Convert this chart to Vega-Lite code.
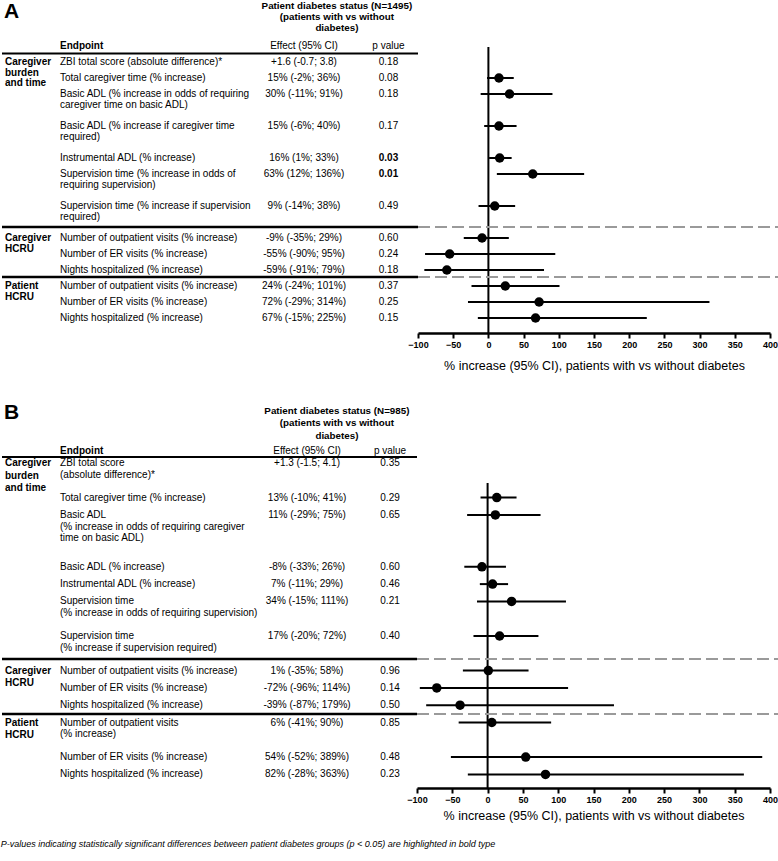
{
  "$schema": "https://vega.github.io/schema/vega-lite/v6.json",
  "padding": {"left": 0, "top": 0, "right": 0, "bottom": 0},
  "config": {
    "font": "Liberation Sans",
    "view": {"stroke": null},
    "text": {"font": "Liberation Sans", "fontSize": 10, "baseline": "middle", "color": "black", "lineBreak": "\n"},
    "axisX": {"values": [-100, -50, 0, 50, 100, 150, 200, 250, 300, 350, 400], "titleFontSize": 12.5, "titleFontWeight": "normal", "titleColor": "black", "titleFont": "Liberation Sans", "labelFontWeight": "bold", "labelFontSize": 9, "labelColor": "black", "labelFont": "Liberation Sans", "labelPadding": 2, "tickColor": "black", "tickWidth": 2, "tickSize": 5, "domainColor": "black", "domainWidth": 2.5, "grid": false, "labelFlush": false, "labelOverlap": false}
  },
  "title": {
    "text": "P-values indicating statistically significant differences between patient diabetes groups (p < 0.05) are highlighted in bold type",
    "orient": "bottom", "anchor": "start", "fontSize": 9, "fontStyle": "italic", "fontWeight": "normal",
    "color": "black", "font": "Liberation Sans", "offset": 18
  },
  "datasets": {
    "A": [
      {"group": "Caregiver\nburden\nand time", "endpoint": "ZBI total score (absolute difference)*", "effect": "+1.6 (-0.7; 3.8)", "p": "0.18", "line": 1, "est": null, "lo": null, "hi": null},
      {"group": "", "endpoint": "Total caregiver time (% increase)", "effect": "15% (-2%; 36%)", "p": "0.08", "line": 2, "est": 15, "lo": -2, "hi": 36},
      {"group": "", "endpoint": "Basic ADL (% increase in odds of requiring\ncaregiver time on basic ADL)", "effect": "30% (-11%; 91%)", "p": "0.18", "line": 3, "est": 30, "lo": -11, "hi": 91},
      {"group": "", "endpoint": "Basic ADL (% increase if caregiver time\nrequired)", "effect": "15% (-6%; 40%)", "p": "0.17", "line": 5, "est": 15, "lo": -6, "hi": 40},
      {"group": "", "endpoint": "Instrumental ADL (% increase)", "effect": "16% (1%; 33%)", "p": "0.03", "line": 7, "est": 16, "lo": 1, "hi": 33},
      {"group": "", "endpoint": "Supervision time (% increase in odds of\nrequiring supervision)", "effect": "63% (12%; 136%)", "p": "0.01", "line": 8, "est": 63, "lo": 12, "hi": 136},
      {"group": "", "endpoint": "Supervision time (% increase if supervision\nrequired)", "effect": "9% (-14%; 38%)", "p": "0.49", "line": 10, "est": 9, "lo": -14, "hi": 38},
      {"group": "Caregiver\nHCRU", "endpoint": "Number of outpatient visits (% increase)", "effect": "-9% (-35%; 29%)", "p": "0.60", "line": 12, "est": -9, "lo": -35, "hi": 29},
      {"group": "", "endpoint": "Number of ER visits (% increase)", "effect": "-55% (-90%; 95%)", "p": "0.24", "line": 13, "est": -55, "lo": -90, "hi": 95},
      {"group": "", "endpoint": "Nights hospitalized (% increase)", "effect": "-59% (-91%; 79%)", "p": "0.18", "line": 14, "est": -59, "lo": -91, "hi": 79},
      {"group": "Patient\nHCRU", "endpoint": "Number of outpatient visits (% increase)", "effect": "24% (-24%; 101%)", "p": "0.37", "line": 15, "est": 24, "lo": -24, "hi": 101},
      {"group": "", "endpoint": "Number of ER visits (% increase)", "effect": "72% (-29%; 314%)", "p": "0.25", "line": 16, "est": 72, "lo": -29, "hi": 314},
      {"group": "", "endpoint": "Nights hospitalized (% increase)", "effect": "67% (-15%; 225%)", "p": "0.15", "line": 17, "est": 67, "lo": -15, "hi": 225}
    ],
    "B": [
      {"group": "Caregiver\nburden\nand time", "endpoint": "ZBI total score\n(absolute difference)*", "effect": "+1.3 (-1.5; 4.1)", "p": "0.35", "line": 1, "est": null, "lo": null, "hi": null},
      {"group": "", "endpoint": "Total caregiver time (% increase)", "effect": "13% (-10%; 41%)", "p": "0.29", "line": 3, "est": 13, "lo": -10, "hi": 41},
      {"group": "", "endpoint": "Basic ADL\n(% increase in odds of requiring caregiver\ntime on basic ADL)", "effect": "11% (-29%; 75%)", "p": "0.65", "line": 4, "est": 11, "lo": -29, "hi": 75},
      {"group": "", "endpoint": "Basic ADL (% increase)", "effect": "-8% (-33%; 26%)", "p": "0.60", "line": 7, "est": -8, "lo": -33, "hi": 26},
      {"group": "", "endpoint": "Instrumental ADL (% increase)", "effect": "7% (-11%; 29%)", "p": "0.46", "line": 8, "est": 7, "lo": -11, "hi": 29},
      {"group": "", "endpoint": "Supervision time\n(% increase in odds of requiring supervision)", "effect": "34% (-15%; 111%)", "p": "0.21", "line": 9, "est": 34, "lo": -15, "hi": 111},
      {"group": "", "endpoint": "Supervision time\n(% increase if supervision required)", "effect": "17% (-20%; 72%)", "p": "0.40", "line": 11, "est": 17, "lo": -20, "hi": 72},
      {"group": "Caregiver\nHCRU", "endpoint": "Number of outpatient visits (% increase)", "effect": "1% (-35%; 58%)", "p": "0.96", "line": 13, "est": 1, "lo": -35, "hi": 58},
      {"group": "", "endpoint": "Number of ER visits (% increase)", "effect": "-72% (-96%; 114%)", "p": "0.14", "line": 14, "est": -72, "lo": -96, "hi": 114},
      {"group": "", "endpoint": "Nights hospitalized (% increase)", "effect": "-39% (-87%; 179%)", "p": "0.50", "line": 15, "est": -39, "lo": -87, "hi": 179},
      {"group": "Patient\nHCRU", "endpoint": "Number of outpatient visits\n(% increase)", "effect": "6% (-41%; 90%)", "p": "0.85", "line": 16, "est": 6, "lo": -41, "hi": 90},
      {"group": "", "endpoint": "Number of ER visits (% increase)", "effect": "54% (-52%; 389%)", "p": "0.48", "line": 18, "est": 54, "lo": -52, "hi": 389},
      {"group": "", "endpoint": "Nights hospitalized (% increase)", "effect": "82% (-28%; 363%)", "p": "0.23", "line": 19, "est": 82, "lo": -28, "hi": 363}
    ]
  },
  "spacing": 29,
  "vconcat": [
    {
      "bounds": "flush",
      "spacing": 0,
      "hconcat": [
        {
          "width": 416, "height": 333,
          "data": {"name": "A"},
          "layer": [
            {"transform": [{"filter": "datum.group != ''"}],
             "mark": {"type": "text", "align": "left", "fontWeight": "bold", "lineHeight": 10.5},
             "encoding": {"x": {"datum": 0.72, "type": "quantitative", "scale": {"domain": [0, 100], "nice": false, "zero": false}, "axis": null},
                          "y": {"field": "line", "type": "quantitative", "scale": {"domain": [-2.875, 17.9375], "reverse": true, "nice": false, "zero": false}, "axis": null},
                          "text": {"field": "group"}}},
            {"mark": {"type": "text", "align": "left", "lineHeight": 10.5},
             "encoding": {"x": {"datum": 13.94, "type": "quantitative", "scale": {"domain": [0, 100], "nice": false, "zero": false}, "axis": null},
                          "y": {"field": "line", "type": "quantitative", "scale": {"domain": [-2.875, 17.9375], "reverse": true, "nice": false, "zero": false}, "axis": null},
                          "text": {"field": "endpoint"}}},
            {"mark": {"type": "text", "align": "center"},
             "encoding": {"x": {"datum": 72.6, "type": "quantitative", "scale": {"domain": [0, 100], "nice": false, "zero": false}, "axis": null},
                          "y": {"field": "line", "type": "quantitative", "scale": {"domain": [-2.875, 17.9375], "reverse": true, "nice": false, "zero": false}, "axis": null},
                          "text": {"field": "effect"}}},
            {"transform": [{"filter": "toNumber(datum.p) >= 0.05"}],
             "mark": {"type": "text", "align": "center"},
             "encoding": {"x": {"datum": 92.9, "type": "quantitative", "scale": {"domain": [0, 100], "nice": false, "zero": false}, "axis": null},
                          "y": {"field": "line", "type": "quantitative", "scale": {"domain": [-2.875, 17.9375], "reverse": true, "nice": false, "zero": false}, "axis": null},
                          "text": {"field": "p"}}},
            {"transform": [{"filter": "toNumber(datum.p) < 0.05"}],
             "mark": {"type": "text", "align": "center", "fontWeight": "bold"},
             "encoding": {"x": {"datum": 92.9, "type": "quantitative", "scale": {"domain": [0, 100], "nice": false, "zero": false}, "axis": null},
                          "y": {"field": "line", "type": "quantitative", "scale": {"domain": [-2.875, 17.9375], "reverse": true, "nice": false, "zero": false}, "axis": null},
                          "text": {"field": "p"}}},
            {"data": {"values": [{}]},
             "mark": {"type": "text", "align": "left", "fontWeight": "bold", "fontSize": 21, "text": "A"},
             "encoding": {"x": {"datum": 0.5, "type": "quantitative", "axis": null}, "y": {"datum": -2.094, "type": "quantitative", "axis": null}}},
            {"data": {"values": [{}]},
             "mark": {"type": "text", "align": "center", "fontWeight": "bold", "fontSize": 9.8, "lineHeight": 11, "text": "Patient diabetes status (N=1495)\n(patients with vs without\ndiabetes)"},
             "encoding": {"x": {"datum": 80.5, "type": "quantitative", "axis": null}, "y": {"datum": -2.5, "type": "quantitative", "axis": null}}},
            {"data": {"values": [{}]},
             "mark": {"type": "text", "align": "left", "fontWeight": "bold", "text": "Endpoint"},
             "encoding": {"x": {"datum": 13.94, "type": "quantitative", "axis": null}, "y": {"datum": 0, "type": "quantitative", "axis": null}}},
            {"data": {"values": [{}]},
             "mark": {"type": "text", "align": "center", "text": "Effect (95% CI)"},
             "encoding": {"x": {"datum": 72.6, "type": "quantitative", "axis": null}, "y": {"datum": 0, "type": "quantitative", "axis": null}}},
            {"data": {"values": [{}]},
             "mark": {"type": "text", "align": "center", "text": "p value"},
             "encoding": {"x": {"datum": 92.9, "type": "quantitative", "axis": null}, "y": {"datum": 0, "type": "quantitative", "axis": null}}},
            {"data": {"values": [{}]},
             "mark": {"type": "rule", "color": "black", "strokeWidth": 2},
             "encoding": {"y": {"datum": 0.469, "type": "quantitative", "axis": null}}},
            {"data": {"values": [{}]},
             "mark": {"type": "rule", "color": "black", "strokeWidth": 2.5},
             "encoding": {"y": {"datum": 11.31, "type": "quantitative", "axis": null}}},
            {"data": {"values": [{}]},
             "mark": {"type": "rule", "color": "black", "strokeWidth": 2.5},
             "encoding": {"y": {"datum": 14.44, "type": "quantitative", "axis": null}}}
          ]
        },
        {
          "width": 352, "height": 333,
          "data": {"name": "A"},
          "layer": [
            {"data": {"values": [{}]},
             "mark": {"type": "rule", "color": "black", "strokeWidth": 2},
             "encoding": {"x": {"datum": 0, "type": "quantitative", "scale": {"domain": [-100, 400], "nice": false, "zero": false}, "title": "% increase (95% CI), patients with vs without diabetes", "axis": {"titlePadding": 10}},
                          "y": {"datum": 0.0625, "type": "quantitative", "scale": {"domain": [-2.875, 17.9375], "reverse": true, "nice": false, "zero": false}, "axis": null},
                          "y2": {"datum": 17.9375}}},
            {"data": {"values": [{}]},
             "mark": {"type": "rule", "color": "#9a9a9a", "strokeWidth": 2, "strokeDash": [12, 5]},
             "encoding": {"x": {"datum": -100, "type": "quantitative", "title": "% increase (95% CI), patients with vs without diabetes", "axis": {"titlePadding": 10}}, "x2": {"datum": 413}, "y": {"datum": 11.31, "type": "quantitative", "axis": null}}},
            {"data": {"values": [{}]},
             "mark": {"type": "rule", "color": "#9a9a9a", "strokeWidth": 2, "strokeDash": [12, 5]},
             "encoding": {"x": {"datum": -100, "type": "quantitative", "title": "% increase (95% CI), patients with vs without diabetes", "axis": {"titlePadding": 10}}, "x2": {"datum": 413}, "y": {"datum": 14.44, "type": "quantitative", "axis": null}}},
            {"transform": [{"filter": "isValid(datum.est)"}],
             "mark": {"type": "rule", "color": "black", "strokeWidth": 2},
             "encoding": {"x": {"field": "lo", "type": "quantitative", "scale": {"domain": [-100, 400], "nice": false, "zero": false}, "title": "% increase (95% CI), patients with vs without diabetes", "axis": {"titlePadding": 10}},
                          "x2": {"field": "hi"},
                          "y": {"field": "line", "type": "quantitative", "scale": {"domain": [-2.875, 17.9375], "reverse": true, "nice": false, "zero": false}, "axis": null}}},
            {"transform": [{"filter": "isValid(datum.est)"}],
             "mark": {"type": "point", "filled": true, "color": "black", "opacity": 1, "size": 90},
             "encoding": {"x": {"field": "est", "type": "quantitative", "scale": {"domain": [-100, 400], "nice": false, "zero": false}, "title": "% increase (95% CI), patients with vs without diabetes", "axis": {"titlePadding": 10}},
                          "y": {"field": "line", "type": "quantitative", "scale": {"domain": [-2.875, 17.9375], "reverse": true, "nice": false, "zero": false}, "axis": null}}}
          ]
        }
      ]
    },
    {
      "bounds": "flush",
      "spacing": 0,
      "hconcat": [
        {
          "width": 415, "height": 387,
          "data": {"name": "B"},
          "layer": [
            {"transform": [{"filter": "datum.group != ''"}],
             "mark": {"type": "text", "align": "left", "fontWeight": "bold", "lineHeight": 12.5},
             "encoding": {"x": {"datum": 0.72, "type": "quantitative", "scale": {"domain": [0, 100], "nice": false, "zero": false}, "axis": null},
                          "y": {"field": "line", "type": "quantitative", "scale": {"domain": [-2.584, 19.786], "reverse": true, "nice": false, "zero": false}, "axis": null},
                          "text": {"field": "group"}}},
            {"mark": {"type": "text", "align": "left", "lineHeight": 11.7},
             "encoding": {"x": {"datum": 13.98, "type": "quantitative", "scale": {"domain": [0, 100], "nice": false, "zero": false}, "axis": null},
                          "y": {"field": "line", "type": "quantitative", "scale": {"domain": [-2.584, 19.786], "reverse": true, "nice": false, "zero": false}, "axis": null},
                          "text": {"field": "endpoint"}}},
            {"mark": {"type": "text", "align": "center"},
             "encoding": {"x": {"datum": 73.5, "type": "quantitative", "scale": {"domain": [0, 100], "nice": false, "zero": false}, "axis": null},
                          "y": {"field": "line", "type": "quantitative", "scale": {"domain": [-2.584, 19.786], "reverse": true, "nice": false, "zero": false}, "axis": null},
                          "text": {"field": "effect"}}},
            {"transform": [{"filter": "toNumber(datum.p) >= 0.05"}],
             "mark": {"type": "text", "align": "center"},
             "encoding": {"x": {"datum": 93.5, "type": "quantitative", "scale": {"domain": [0, 100], "nice": false, "zero": false}, "axis": null},
                          "y": {"field": "line", "type": "quantitative", "scale": {"domain": [-2.584, 19.786], "reverse": true, "nice": false, "zero": false}, "axis": null},
                          "text": {"field": "p"}}},
            {"transform": [{"filter": "toNumber(datum.p) < 0.05"}],
             "mark": {"type": "text", "align": "center", "fontWeight": "bold"},
             "encoding": {"x": {"datum": 93.5, "type": "quantitative", "scale": {"domain": [0, 100], "nice": false, "zero": false}, "axis": null},
                          "y": {"field": "line", "type": "quantitative", "scale": {"domain": [-2.584, 19.786], "reverse": true, "nice": false, "zero": false}, "axis": null},
                          "text": {"field": "p"}}},
            {"data": {"values": [{}]},
             "mark": {"type": "text", "align": "left", "fontWeight": "bold", "fontSize": 21, "text": "B"},
             "encoding": {"x": {"datum": 0.5, "type": "quantitative", "axis": null}, "y": {"datum": -1.89, "type": "quantitative", "axis": null}}},
            {"data": {"values": [{}]},
             "mark": {"type": "text", "align": "center", "fontWeight": "bold", "fontSize": 9.8, "lineHeight": 12.5, "text": "Patient diabetes status (N=985)\n(patients with vs without\ndiabetes)"},
             "encoding": {"x": {"datum": 80.7, "type": "quantitative", "axis": null}, "y": {"datum": -2.006, "type": "quantitative", "axis": null}}},
            {"data": {"values": [{}]},
             "mark": {"type": "text", "align": "left", "fontWeight": "bold", "text": "Endpoint"},
             "encoding": {"x": {"datum": 13.98, "type": "quantitative", "axis": null}, "y": {"datum": 0.28, "type": "quantitative", "axis": null}}},
            {"data": {"values": [{}]},
             "mark": {"type": "text", "align": "center", "text": "Effect (95% CI)"},
             "encoding": {"x": {"datum": 73.5, "type": "quantitative", "axis": null}, "y": {"datum": 0.28, "type": "quantitative", "axis": null}}},
            {"data": {"values": [{}]},
             "mark": {"type": "text", "align": "center", "text": "p value"},
             "encoding": {"x": {"datum": 93.5, "type": "quantitative", "axis": null}, "y": {"datum": 0.28, "type": "quantitative", "axis": null}}},
            {"data": {"values": [{}]},
             "mark": {"type": "rule", "color": "black", "strokeWidth": 2},
             "encoding": {"y": {"datum": 0.65, "type": "quantitative", "axis": null}}},
            {"data": {"values": [{}]},
             "mark": {"type": "rule", "color": "black", "strokeWidth": 2.5},
             "encoding": {"y": {"datum": 12.33, "type": "quantitative", "axis": null}}},
            {"data": {"values": [{}]},
             "mark": {"type": "rule", "color": "black", "strokeWidth": 2.5},
             "encoding": {"y": {"datum": 15.51, "type": "quantitative", "axis": null}}}
          ]
        },
        {
          "width": 353, "height": 387,
          "data": {"name": "B"},
          "layer": [
            {"data": {"values": [{}]},
             "mark": {"type": "rule", "color": "black", "strokeWidth": 2},
             "encoding": {"x": {"datum": 0, "type": "quantitative", "scale": {"domain": [-100, 400], "nice": false, "zero": false}, "title": "% increase (95% CI), patients with vs without diabetes", "axis": {"titlePadding": 5}},
                          "y": {"datum": 2.156, "type": "quantitative", "scale": {"domain": [-2.584, 19.786], "reverse": true, "nice": false, "zero": false}, "axis": null},
                          "y2": {"datum": 19.786}}},
            {"data": {"values": [{}]},
             "mark": {"type": "rule", "color": "#9a9a9a", "strokeWidth": 2, "strokeDash": [12, 5]},
             "encoding": {"x": {"datum": -100, "type": "quantitative", "title": "% increase (95% CI), patients with vs without diabetes", "axis": {"titlePadding": 5}}, "x2": {"datum": 413}, "y": {"datum": 12.33, "type": "quantitative", "axis": null}}},
            {"data": {"values": [{}]},
             "mark": {"type": "rule", "color": "#9a9a9a", "strokeWidth": 2, "strokeDash": [12, 5]},
             "encoding": {"x": {"datum": -100, "type": "quantitative", "title": "% increase (95% CI), patients with vs without diabetes", "axis": {"titlePadding": 5}}, "x2": {"datum": 413}, "y": {"datum": 15.51, "type": "quantitative", "axis": null}}},
            {"transform": [{"filter": "isValid(datum.est)"}],
             "mark": {"type": "rule", "color": "black", "strokeWidth": 2},
             "encoding": {"x": {"field": "lo", "type": "quantitative", "scale": {"domain": [-100, 400], "nice": false, "zero": false}, "title": "% increase (95% CI), patients with vs without diabetes", "axis": {"titlePadding": 5}},
                          "x2": {"field": "hi"},
                          "y": {"field": "line", "type": "quantitative", "scale": {"domain": [-2.584, 19.786], "reverse": true, "nice": false, "zero": false}, "axis": null}}},
            {"transform": [{"filter": "isValid(datum.est)"}],
             "mark": {"type": "point", "filled": true, "color": "black", "opacity": 1, "size": 90},
             "encoding": {"x": {"field": "est", "type": "quantitative", "scale": {"domain": [-100, 400], "nice": false, "zero": false}, "title": "% increase (95% CI), patients with vs without diabetes", "axis": {"titlePadding": 5}},
                          "y": {"field": "line", "type": "quantitative", "scale": {"domain": [-2.584, 19.786], "reverse": true, "nice": false, "zero": false}, "axis": null}}}
          ]
        }
      ]
    }
  ]
}
